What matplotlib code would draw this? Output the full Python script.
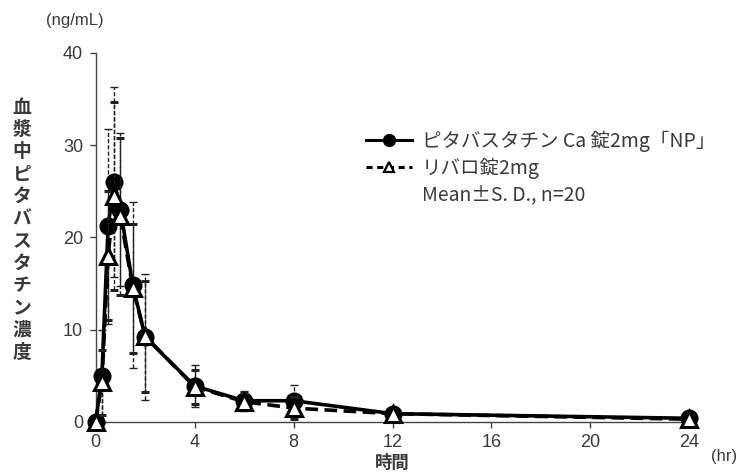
import matplotlib
matplotlib.use("Agg")
import matplotlib.pyplot as plt
from matplotlib.lines import Line2D

plt.rcParams['font.family'] = ['Noto Sans CJK JP', 'DejaVu Sans']

# sampling times (hr)
times = [0, 0.25, 0.5, 0.75, 1, 1.5, 2, 4, 6, 8, 12, 24]

# ピタバスタチンCa錠2mg「NP」
np_mean = [0, 5.0, 21.2, 26.0, 23.0, 14.8, 9.2, 3.9, 2.3, 2.3, 0.9, 0.4]
np_sd = [0, 5.0, 10.6, 10.3, 8.3, 9.0, 6.8, 2.3, 1.1, 1.7, 0.5, 0.4]

# リバロ錠2mg
lv_mean = [0, 4.3, 18.0, 24.5, 22.3, 14.5, 9.3, 3.8, 2.2, 1.5, 0.9, 0.3]
lv_sd = [0, 3.5, 7.0, 10.2, 8.5, 7.0, 6.0, 1.8, 0.9, 1.2, 0.4, 0.3]

x_ticks = [0, 4, 8, 12, 16, 20, 24]
y_ticks = [0, 10, 20, 30, 40]

fig = plt.figure(figsize=(7.42, 4.72), dpi=100)
ax = fig.add_axes([0.129, 0.106, 0.800, 0.782])

txt = '#3a3a3a'
num_font = ['Liberation Sans', 'DejaVu Sans']

eb = ax.errorbar(times, lv_mean, yerr=lv_sd, color='black', lw=2.6,
                 ls=(0, (3.5, 1.8)), marker='^', markersize=11,
                 markerfacecolor='white', markeredgecolor='black',
                 markeredgewidth=2.2, ecolor='#222222', elinewidth=1,
                 capsize=3, clip_on=False, zorder=4)
eb[-1][0].set_linestyle((0, (3, 1.5)))

eb2 = ax.errorbar(times, np_mean, yerr=np_sd, color='black', lw=2.6, ls='-',
                  marker='o', markersize=12, markerfacecolor='black',
                  markeredgecolor='black', ecolor='#222222', elinewidth=1,
                  capsize=3, clip_on=False, zorder=3)
eb2[-1][0].set_linestyle((0, (3, 1.5)))

ax.set_xlim(0, 24)
ax.set_ylim(0, 40)
ax.set_xticks(x_ticks)
ax.set_yticks(y_ticks)
ax.tick_params(direction='out', length=4, width=1, colors='#444444',
               labelcolor=txt, labelsize=13, pad=5)
for lab in ax.get_xticklabels() + ax.get_yticklabels():
    lab.set_family(num_font)
for s in ['top', 'right']:
    ax.spines[s].set_visible(False)
for s in ['left', 'bottom']:
    ax.spines[s].set_color('#444444')
    ax.spines[s].set_linewidth(1)

# units and axis titles
fig.text(75 / 742, 1 - 21 / 472, '(ng/mL)', fontsize=12, color=txt,
         family=num_font, ha='center', va='center')
fig.text(724 / 742, 1 - 457 / 472, '(hr)', fontsize=12, color=txt,
         family=num_font, ha='center', va='center')
fig.text(392 / 742, 1 - 463 / 472, '時間', fontsize=12.5, fontweight='bold',
         color=txt, ha='center', va='center')
ylab = '血漿中ピタバスタチン濃度'
fig.text(22 / 742, 1 - 230 / 472, '\n'.join(ylab), fontsize=13.5,
         fontweight='bold', color=txt, ha='center', va='center',
         linespacing=1.22)

# legend
h1 = Line2D([], [], color='black', lw=2.2, marker='o', markersize=8.5)
h2 = Line2D([], [], color='black', lw=2.2, ls=(0, (2, 1.5)), marker='^',
            markersize=6.5, markerfacecolor='white', markeredgewidth=1.6)
h3 = Line2D([], [], color='none')
leg = fig.legend([h1, h2, h3],
                 ['ピタバスタチン Ca 錠2mg「NP」', 'リバロ錠2mg', 'Mean±S. D., n=20'],
                 loc='upper left', bbox_to_anchor=(348 / 742, 1 - 113 / 472),
                 frameon=False, fontsize=14, handlelength=2.4,
                 handletextpad=0.5, labelspacing=0.3, labelcolor=txt)

fig.savefig('out.png', dpi=100)
